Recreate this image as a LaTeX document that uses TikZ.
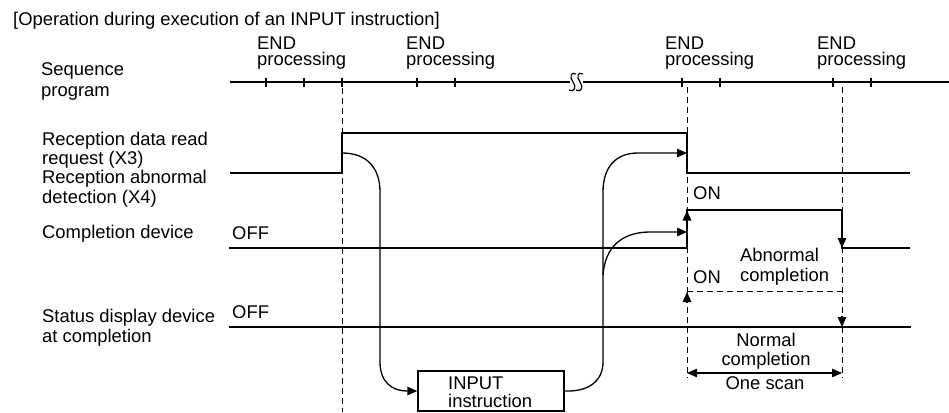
\documentclass[tikz,border=0pt]{standalone}
\usepackage{fontspec}
\setmainfont{Liberation Sans}
\usetikzlibrary{arrows.meta}
\newcommand\lbf{\fontsize{18.4}{20}\selectfont}
\newcommand\procf{\fontsize{18.4}{16}\selectfont}
\begin{document}
\begin{tikzpicture}[x=1pt,y=-1pt,
  txt/.style={font=\lbf, inner sep=0pt, anchor=base west},
  txtc/.style={font=\lbf, inner sep=0pt, anchor=base},
  endlbl/.style={font=\procf, inner sep=0pt, anchor=north west, align=left},
  sig/.style={line width=2.4pt, line join=miter},
  seqline/.style={line width=2pt},
  conn/.style={line width=1.3pt},
  dsh/.style={line width=1pt, dash pattern=on 6pt off 4pt},
  tip/.style={-{Triangle[length=10pt,width=8.5pt]}},
  dtip/.style={{Triangle[length=10pt,width=8.5pt]}-{Triangle[length=10pt,width=8.5pt]}},
]
\useasboundingbox (0,0) rectangle (949,412);

% title
\node[txt] (title) at (13,26) {[Operation during execution of an INPUT instruction]};

% END processing labels
\node[endlbl] (end1) at (257,36.8) {END\\processing};
\node[endlbl] (end2) at (406,36.8) {END\\processing};
\node[endlbl] (end3) at (665,36.8) {END\\processing};
\node[endlbl] (end4) at (817,36.8) {END\\processing};

% left labels
\node[txt] (l1a) at (41,75) {Sequence};
\node[txt] (l1b) at (41,96) {program};
\node[txt] (l2a) at (42,145) {Reception data read};
\node[txt] (l2b) at (42,164.5) {request (X3)};
\node[txt] (l3a) at (42,183.5) {Reception abnormal};
\node[txt] (l3b) at (42,203) {detection (X4)};
\node[txt] (l4) at (42,238) {Completion device};
\node[txt] (l5a) at (42,322.5) {Status display device};
\node[txt] (l5b) at (42,342.5) {at completion};
\node[txt] (off1) at (232,239) {OFF};
\node[txt] (off2) at (232,318.5) {OFF};

% sequence program line
\coordinate (sqL) at (230,82);
\coordinate (brL) at (570,82);
\coordinate (brR) at (583,82);
\coordinate (sqR) at (949,82);
\draw[seqline] (sqL) -- (brL);
\draw[seqline] (brR) -- (sqR);
\foreach \t in {266,304,342,417,455,682,720,833,871}
  \draw[line width=1.8pt] (\t,77.5) -- (\t,86.5);
\draw[line width=1.2pt] (576,74) .. controls (571,71) and (569,77) .. (573,82) .. controls (577,87) and (574,93) .. (569,90);
\draw[line width=1.2pt] (583,74) .. controls (578,71) and (576,77) .. (580,82) .. controls (584,87) and (581,93) .. (576,90);

% dashed timing lines
\coordinate (d1t) at (342,88);  \coordinate (d1b) at (342,412);
\coordinate (d2t) at (687,87);  \coordinate (d2b) at (687,378);
\coordinate (d3t) at (842,87);  \coordinate (d3b) at (842,378);
\draw[dsh] (d1t) -- (d1b);
\draw[dsh] (d2t) -- (d2b);
\draw[dsh] (d3t) -- (d3b);
\draw[dsh] (687,291.5) -- (842,291.5);

% signals
\draw[sig] (230,173) -- (342,173) -- (342,133) -- (687,133) -- (687,173) -- (910,173);
\draw[sig] (229,248) -- (687,248) -- (687,210) -- (842,210) -- (842,248) -- (910,248);
\draw[sig] (229,327) -- (911,327);

% edge arrowheads
\draw[conn,tip] (687,228) -- (687,210.5);
\draw[conn,tip] (842,230) -- (842,248);
\draw[conn,tip] (687,303) -- (687,292);
\draw[conn,tip] (842,316) -- (842,327);

% ON / completion labels
\node[txt] (on1) at (693,199) {ON};
\node[txt] (on2) at (693,283) {ON};
\node[txt] (ab1) at (740,261.5) {Abnormal};
\node[txt] (ab2) at (740,281.5) {completion};
\node[txtc] (nm1) at (766,346.5) {Normal};
\node[txtc] (nm2) at (766,365) {completion};
\node[txtc] (scan) at (765,389) {One scan};
\draw[line width=1.1pt, dtip] (687,373) -- (842,373);

% INPUT instruction box
\node[draw, line width=1.3pt, minimum width=146pt, minimum height=40pt, inner sep=0pt] (inp) at (491,391) {};
\node[txt] (inp1) at (448,389) {INPUT};
\node[txt] (inp2) at (448,407.5) {instruction};

% connectors
\coordinate (c1s) at (342,153);
\coordinate (c2e) at (687,153);
\coordinate (c3s) at (603,275);
\coordinate (c3e) at (687,232);
\draw[conn,tip] (c1s) .. controls (367,153) and (380,168) .. (380,192) -- (380,362) .. controls (380,382) and (392,391) .. (407,391) -- (inp.west);
\draw[conn,tip] (inp.east) -- (568,391) .. controls (590,391) and (603,380) .. (603,362) -- (603,192) .. controls (603,168) and (615,153) .. (638,153) -- (c2e);
\draw[conn,tip] (c3s) .. controls (605,247) and (622,232) .. (650,232) -- (c3e);
\end{tikzpicture}
\end{document}
